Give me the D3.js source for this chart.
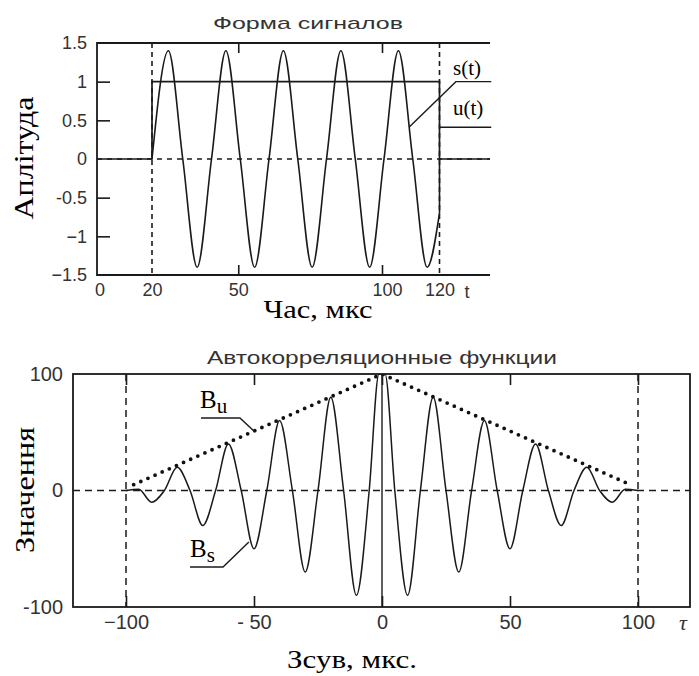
<!DOCTYPE html>
<html>
<head>
<meta charset="utf-8">
<script src="https://cdn.jsdelivr.net/npm/d3@7"></script>
<style>body{margin:0;background:#fff}</style>
</head>
<body>
<svg id="chart" width="699" height="676"></svg>
<script>
const W = 699, H = 676;
const INK = '#1a1a1a';
const LABEL = '#333';
const SANS = '"Liberation Sans", Arial, sans-serif';
const SERIF = '"Liberation Serif", "Times New Roman", serif';

// --- top chart: signal shapes ---
const sigTime = [20, 25.7, 30.7, 35.7, 40.7, 45.7, 50.7, 55.7, 60.7, 65.7, 70.7, 75.7, 80.7, 85.7, 90.7, 95.7, 100.7, 105.7, 110.7, 115.7, 120];
const sigS = [0, 1.4, 0, -1.4, 0, 1.4, 0, -1.4, 0, 1.4, 0, -1.4, 0, 1.4, 0, -1.4, 0, 1.4, 0, -1.4, -0.7];
const sigTailTime = [120, 120];
const sigTailS = [-0.7, 0];
const pulseTime = [0, 20, 20, 120, 120, 140];
const pulseU = [0, 0, 1, 1, 0, 0];
const sigYTicks = [1.5, 1, 0.5, 0, -0.5, -1, -1.5];
const sigYLabels = ['1.5', '1', '0.5', '0', '-0.5', '\u22121', '\u22121.5'];
const sigXTicks = [0, 20, 50, 100, 120];
const sigInnerTicksX = [50, 100];
const sigInnerTicksY = [1, 0.5, -0.5, -1];
const sigMarkers = [20, 120];

// --- bottom chart: autocorrelation ---
const lagTime = [-100, -95, -90, -85, -80, -75, -70, -65, -60, -55, -50, -45, -40, -35, -30, -25, -20, -15, -10, -5, -1.2, 0, 1.2, 5, 10, 15, 20, 25, 30, 35, 40, 45, 50, 55, 60, 65, 70, 75, 80, 85, 90, 95, 100];
const lagBs = [0, 1, -10, 0, 20, 0, -30, 0, 40, 0, -50, 0, 60, 0, -70, 0, 80, 0, -90, 0, 100, 100, 100, 0, -90, 0, 80, 0, -70, 0, 60, 0, -50, 0, 40, 0, -30, 0, 20, 0, -10, 1, 0];
const lagBuTime = [-97, 0, 97];
const lagBu = [5, 100, 5];
const lagYTicks = [100, 0, -100];
const lagYLabels = ['100', '0', '-100'];
const lagXTicks = [-100, -50, 0, 50, 100];
const lagXLabels = ['\u2212100', '- 50', '0', '50', '100'];
const lagInnerTicks = [-100, -50, 0, 50, 100];
const lagMarkers = [-100, 100];

const svg = d3.select('#chart');
svg.append('rect').attr('width', W).attr('height', H).attr('fill', '#fff');

function addText(x, y, text, opts = {}) {
  const t = svg.append('text')
    .attr('x', x).attr('y', y)
    .attr('fill', opts.fill || '#000')
    .attr('font-size', opts.size || 16)
    .attr('font-family', opts.family || SANS)
    .attr('text-anchor', opts.anchor || 'start')
    .text(text);
  if (opts.length) t.attr('textLength', opts.length).attr('lengthAdjust', 'spacingAndGlyphs');
  if (opts.rotate) t.attr('transform', `rotate(${opts.rotate},${x},${y})`);
  if (opts.style) t.attr('font-style', opts.style);
  return t;
}

// ============ TOP CHART ============
const boxT = { left: 97, right: 490, top: 43, bottom: 275 };
const xS = d3.scaleLinear().domain([0, 120]).range([94.5, 439.5]);
const yS = d3.scaleLinear().domain([-1.5, 1.5]).range([boxT.bottom, boxT.top]);

svg.append('clipPath').attr('id', 'clipTop').append('rect')
  .attr('x', boxT.left).attr('y', boxT.top)
  .attr('width', boxT.right - boxT.left).attr('height', boxT.bottom - boxT.top);

const gTop = svg.append('g');

// dashed zero line and markers
gTop.append('line')
  .attr('x1', boxT.left).attr('x2', boxT.right)
  .attr('y1', yS(0)).attr('y2', yS(0))
  .attr('stroke', INK).attr('stroke-width', 1.4).attr('stroke-dasharray', '5,5');
gTop.selectAll('.mark').data(sigMarkers).join('line')
  .attr('x1', d => xS(d)).attr('x2', d => xS(d))
  .attr('y1', boxT.top).attr('y2', boxT.bottom)
  .attr('stroke', INK).attr('stroke-width', 1.6).attr('stroke-dasharray', '5,4');

const lineTop = d3.line().x(d => xS(d[0])).y(d => yS(d[1]));
const pulseData = pulseTime.map((t, i) => [t, pulseU[i]]);
const sData = sigTime.map((t, i) => [t, sigS[i]]);
const tailData = sigTailTime.map((t, i) => [t, sigTailS[i]]);

const plotTop = gTop.append('g').attr('clip-path', 'url(#clipTop)');
plotTop.append('path').attr('d', lineTop(pulseData))
  .attr('fill', 'none').attr('stroke', INK).attr('stroke-width', 1.7);
plotTop.append('path').attr('d', d3.line().x(d => xS(d[0])).y(d => yS(d[1])).curve(d3.curveMonotoneX)(sData))
  .attr('fill', 'none').attr('stroke', INK).attr('stroke-width', 1.6);
plotTop.append('path').attr('d', lineTop(tailData))
  .attr('fill', 'none').attr('stroke', INK).attr('stroke-width', 1.6);

// leaders for s(t), u(t)
gTop.append('path').attr('d', lineTop([[109.4, 0.41], [125.7, 1], [138, 1]]))
  .attr('fill', 'none').attr('stroke', INK).attr('stroke-width', 1.4);
gTop.append('path').attr('d', lineTop([[120, 0.41], [138, 0.41]]))
  .attr('fill', 'none').attr('stroke', INK).attr('stroke-width', 1.4);
addText(453, 75, 's(t)', { family: SERIF, size: 21 });
addText(453, 115, 'u(t)', { family: SERIF, size: 21 });

// frame (right side clipped off)
gTop.append('path')
  .attr('d', `M${boxT.right},${boxT.top}H${boxT.left}V${boxT.bottom}H${boxT.right}`)
  .attr('fill', 'none').attr('stroke', INK).attr('stroke-width', 1.8);

// inner ticks
gTop.append('g').attr('transform', `translate(0,${boxT.top})`)
  .call(d3.axisBottom(xS).tickValues(sigInnerTicksX).tickFormat('').tickSizeInner(10).tickSizeOuter(0))
  .call(g => g.select('.domain').remove())
  .selectAll('line').attr('stroke', INK).attr('stroke-width', 1.6);
gTop.append('g').attr('transform', `translate(0,${boxT.bottom})`)
  .call(d3.axisTop(xS).tickValues(sigInnerTicksX).tickFormat('').tickSizeInner(10).tickSizeOuter(0))
  .call(g => g.select('.domain').remove())
  .selectAll('line').attr('stroke', INK).attr('stroke-width', 1.6);
gTop.append('g').attr('transform', `translate(${boxT.left},0)`)
  .call(d3.axisRight(yS).tickValues(sigInnerTicksY).tickFormat('').tickSizeInner(13).tickSizeOuter(0))
  .call(g => g.select('.domain').remove())
  .selectAll('line').attr('stroke', INK).attr('stroke-width', 1.6);

// tick labels
const yAxT = gTop.append('g').attr('transform', `translate(${boxT.left},0)`)
  .call(d3.axisLeft(yS).tickValues(sigYTicks).tickFormat((d, i) => sigYLabels[i]).tickSize(0).tickPadding(10));
yAxT.select('.domain').remove();
yAxT.selectAll('text').attr('font-size', 18).attr('font-family', SANS).attr('fill', LABEL);

const xAxT = gTop.append('g').attr('transform', `translate(0,${boxT.bottom})`)
  .call(d3.axisBottom(xS).tickValues(sigXTicks).tickSize(0).tickPadding(8));
xAxT.select('.domain').remove();
xAxT.selectAll('text').attr('font-size', 18).attr('font-family', SANS).attr('fill', LABEL)
  .attr('dx', d => d === 0 ? 5 : d === 100 ? 5 : 0);
addText(467, 298, 't', { size: 18, fill: LABEL, anchor: 'middle' });

addText(308, 29, 'Форма сигналов', { size: 17, anchor: 'middle', fill: LABEL, length: 190 });
addText(318, 318, 'Час, мкс', { family: SERIF, size: 25, anchor: 'middle', length: 109 });
addText(33, 158, 'Аплітуда', { family: SERIF, size: 28, anchor: 'middle', rotate: -90, length: 123 });

// ============ BOTTOM CHART ============
const boxB = { left: 73, right: 690, top: 374, bottom: 607 };
const xB = d3.scaleLinear().domain([-100, 100]).range([126, 638]);
const yB = d3.scaleLinear().domain([-100, 100]).range([boxB.bottom, boxB.top]);

svg.append('clipPath').attr('id', 'clipBot').append('rect')
  .attr('x', boxB.left).attr('y', boxB.top)
  .attr('width', boxB.right - boxB.left).attr('height', boxB.bottom - boxB.top);

const gBot = svg.append('g');
gBot.append('line')
  .attr('x1', boxB.left).attr('x2', boxB.right)
  .attr('y1', yB(0)).attr('y2', yB(0))
  .attr('stroke', INK).attr('stroke-width', 1.4).attr('stroke-dasharray', '7,5');
gBot.selectAll('.mark').data(lagMarkers).join('line')
  .attr('x1', d => xB(d)).attr('x2', d => xB(d))
  .attr('y1', boxB.top).attr('y2', boxB.bottom)
  .attr('stroke', INK).attr('stroke-width', 1.5).attr('stroke-dasharray', '7,5');
gBot.append('line')
  .attr('x1', xB(0)).attr('x2', xB(0))
  .attr('y1', boxB.top).attr('y2', boxB.bottom)
  .attr('stroke', INK).attr('stroke-width', 1.4);

const lineBot = d3.line().x(d => xB(d[0])).y(d => yB(d[1]));
const plotBot = gBot.append('g').attr('clip-path', 'url(#clipBot)');
const bsData = lagTime.map((t, i) => [t, lagBs[i]]);
const buData = lagBuTime.map((t, i) => [t, lagBu[i]]);
plotBot.append('path')
  .attr('d', d3.line().x(d => xB(d[0])).y(d => yB(d[1])).curve(d3.curveMonotoneX)(bsData))
  .attr('fill', 'none').attr('stroke', INK).attr('stroke-width', 1.5);
plotBot.append('path')
  .attr('d', lineBot(buData))
  .attr('fill', 'none').attr('stroke', '#111').attr('stroke-width', 3.8)
  .attr('stroke-linecap', 'round').attr('stroke-dasharray', '0,7.8');

// leaders
gBot.append('path').attr('d', lineBot([[-70.7, 62.2], [-55.5, 62.2], [-49.6, 50.2]]))
  .attr('fill', 'none').attr('stroke', INK).attr('stroke-width', 1.4);
gBot.append('path').attr('d', lineBot([[-75, -65.7], [-62.1, -65.7], [-52, -44.2]]))
  .attr('fill', 'none').attr('stroke', INK).attr('stroke-width', 1.4);
const bu = addText(200, 408, 'B', { family: SERIF, size: 25 });
bu.append('tspan').attr('dy', 5).attr('font-size', 21).text('u');
const bs = addText(190, 557, 'B', { family: SERIF, size: 25 });
bs.append('tspan').attr('dy', 5).attr('font-size', 21).text('s');

gBot.append('rect')
  .attr('x', boxB.left).attr('y', boxB.top)
  .attr('width', boxB.right - boxB.left).attr('height', boxB.bottom - boxB.top)
  .attr('fill', 'none').attr('stroke', INK).attr('stroke-width', 1.8);

// inner ticks
gBot.append('g').attr('transform', `translate(0,${boxB.top})`)
  .call(d3.axisBottom(xB).tickValues(lagInnerTicks).tickFormat('').tickSizeInner(11).tickSizeOuter(0))
  .call(g => g.select('.domain').remove())
  .selectAll('line').attr('stroke', INK).attr('stroke-width', 1.6);
gBot.append('g').attr('transform', `translate(0,${boxB.bottom})`)
  .call(d3.axisTop(xB).tickValues(lagInnerTicks).tickFormat('').tickSizeInner(11).tickSizeOuter(0))
  .call(g => g.select('.domain').remove())
  .selectAll('line').attr('stroke', INK).attr('stroke-width', 1.6);

const yAxB = gBot.append('g').attr('transform', `translate(${boxB.left},0)`)
  .call(d3.axisLeft(yB).tickValues(lagYTicks).tickFormat((d, i) => lagYLabels[i]).tickSize(0).tickPadding(10));
yAxB.select('.domain').remove();
yAxB.selectAll('text').attr('font-size', 20).attr('font-family', SANS).attr('fill', LABEL);

const xAxB = gBot.append('g').attr('transform', `translate(0,${boxB.bottom})`)
  .call(d3.axisBottom(xB).tickValues(lagXTicks).tickFormat((d, i) => lagXLabels[i]).tickSize(0).tickPadding(8));
xAxB.select('.domain').remove();
xAxB.selectAll('text').attr('font-size', 20).attr('font-family', SANS).attr('fill', LABEL);
addText(683, 630, '\u03c4', { family: SERIF, size: 22, anchor: 'middle', style: 'italic', fill: LABEL });

addText(382, 364, 'Автокорреляционные функции', { size: 18, anchor: 'middle', fill: LABEL, length: 350 });
addText(352, 668, 'Зсув, мкс.', { family: SERIF, size: 26, anchor: 'middle', length: 130 });
addText(34, 490, 'Значення', { family: SERIF, size: 28, anchor: 'middle', rotate: -90, length: 126 });
</script>
</body>
</html>
